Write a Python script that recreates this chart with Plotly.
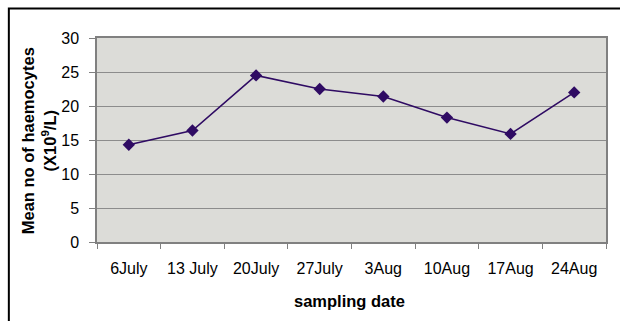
import plotly.graph_objects as go

# Sampling dates and mean haemocyte counts (x10^9 / L)
dates = ["6July", "13 July", "20July", "27July", "3Aug", "10Aug", "17Aug", "24Aug"]
mean_haemocytes = [14.3, 16.4, 24.5, 22.5, 21.4, 18.3, 15.9, 22.0]
y_ticks = [0, 5, 10, 15, 20, 25, 30]

W, H = 620, 321
M_L, M_R, M_T, M_B = 97, 12, 38, 79
plot_w = W - M_L - M_R
plot_h = H - M_T - M_B


def px_to_paper_x(px):
    return (px - M_L) / plot_w


def px_to_paper_y(py):
    return (H - M_B - py) / plot_h


line_col = "#2f0b63"
grid_col = "#8c8c8c"
font_fam = "Liberation Sans, Arial, sans-serif"

fig = go.Figure(
    go.Scatter(
        x=dates,
        y=mean_haemocytes,
        mode="lines+markers",
        line=dict(color=line_col, width=1.6),
        marker=dict(symbol="diamond", size=9.5, color=line_col),
        hoverinfo="x+y",
    )
)

fig.update_layout(
    width=W,
    height=H,
    margin=dict(l=M_L, r=M_R, t=M_T, b=M_B, pad=0),
    paper_bgcolor="white",
    plot_bgcolor="#dcdcd8",
    showlegend=False,
    font=dict(family=font_fam, color="black"),
)

fig.update_xaxes(
    type="category",
    tickson="boundaries",
    ticks="outside",
    ticklen=5,
    tickcolor="#808080",
    showgrid=False,
    showline=True,
    linecolor="#808080",
    linewidth=1.5,
    mirror=True,
    tickfont=dict(size=16),
    ticklabelstandoff=11,
    range=[-0.5, len(dates) - 0.5],
)

fig.update_yaxes(
    range=[0, 30],
    tickvals=y_ticks,
    ticks="outside",
    ticklen=6,
    tickcolor="#808080",
    showgrid=True,
    gridcolor=grid_col,
    gridwidth=1,
    zeroline=False,
    showline=True,
    linecolor="#808080",
    linewidth=1.5,
    mirror=True,
    tickfont=dict(size=16),
    ticklabelstandoff=7,
)

# Axis titles
fig.add_annotation(
    text="<b>sampling date</b>",
    xref="paper", yref="paper",
    x=px_to_paper_x(350), y=px_to_paper_y(301),
    showarrow=False,
    font=dict(size=16.5),
    xanchor="center", yanchor="middle",
)
fig.add_annotation(
    text="<b>Mean no of haemocytes<br>(X10<sup>9</sup>/L)</b>",
    xref="paper", yref="paper",
    x=px_to_paper_x(38), y=px_to_paper_y(141),
    showarrow=False,
    textangle=-90,
    font=dict(size=16.5),
    xanchor="center", yanchor="middle",
)

# Outer chart frame
fig.add_shape(
    type="rect",
    xref="paper", yref="paper",
    x0=px_to_paper_x(8.5), y0=px_to_paper_y(340),
    x1=px_to_paper_x(640), y1=px_to_paper_y(8.5),
    line=dict(color="black", width=2),
    fillcolor="rgba(0,0,0,0)",
    layer="below",
)

fig.write_html("out.html")
